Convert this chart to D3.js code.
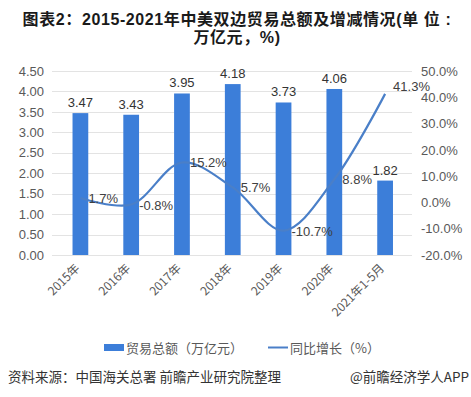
<!DOCTYPE html>
<html>
<head>
<meta charset="utf-8">
<script src="https://cdn.jsdelivr.net/npm/d3@7"></script>
<style>
  body { margin: 0; background: #fff; }
  svg { font-family: "Noto Sans CJK SC", "Liberation Sans", sans-serif; }
</style>
</head>
<body>
<svg width="471" height="397"></svg>
<script>
'use strict';

// chart data
var years = ['2015年', '2016年', '2017年', '2018年', '2019年', '2020年', '2021年1-5月'];
var tradeTotal = [3.47, 3.43, 3.95, 4.18, 3.73, 4.06, 1.82];
var growth = [1.7, -0.8, 15.2, 5.7, -10.7, 8.8, 41.3];
var leftTicks = [0, 0.5, 1, 1.5, 2, 2.5, 3, 3.5, 4, 4.5];
var rightTicks = [-20, -10, 0, 10, 20, 30, 40, 50];

var svg = d3.select('svg');
var barColor = '#3c7ed9';
var lineColor = '#4a7fc8';

var plotLeft = 55, plotRight = 410.5, plotTop = 71, plotBottom = 255;

var x = d3.scaleBand().domain(years).range([plotLeft, plotRight]).paddingInner(0.69).paddingOuter(0.345);
var yL = d3.scaleLinear().domain([0, 4.5]).range([plotBottom, plotTop]);
var yR = d3.scaleLinear().domain([-20, 50]).range([plotBottom, plotTop]);

//Title
var title = svg.append('g').attr('font-weight', 'bold').attr('fill', '#1a1a1a')
  .attr('font-family', '"Liberation Sans", "Noto Sans CJK SC", sans-serif')
  .attr('font-size', 16).attr('letter-spacing', 0.6).attr('text-anchor', 'middle');
title.append('text').attr('x', 237).attr('y', 25).text('图表2：2015-2021年中美双边贸易总额及增减情况(单 位 :');
title.append('text').attr('x', 237).attr('y', 43).text('万亿元，%)');

//Gridlines
svg.append('g').selectAll('line').data(leftTicks).enter().append('line')
  .attr('x1', 52).attr('x2', 412)
  .attr('y1', function (d) { return Math.round(yL(d)) + 0.5; })
  .attr('y2', function (d) { return Math.round(yL(d)) + 0.5; })
  .attr('stroke', '#e3e3e3').attr('stroke-width', 1);

//Left axis
var axL = svg.append('g').attr('transform', 'translate(44,0)')
  .call(d3.axisLeft(yL).tickValues(leftTicks).tickFormat(d3.format('.2f')).tickSize(0).tickPadding(0));
axL.select('.domain').remove();
axL.selectAll('text').attr('font-size', 13).attr('fill', '#595959')
  .attr('font-family', '"Liberation Sans", sans-serif');

//Right axis
var axR = svg.append('g').attr('transform', 'translate(421,0)')
  .call(d3.axisRight(yR).tickValues(rightTicks).tickFormat(function (d) { return d.toFixed(1) + '%'; }).tickSize(0).tickPadding(0));
axR.select('.domain').remove();
axR.selectAll('text').attr('font-size', 13).attr('fill', '#595959')
  .attr('font-family', '"Liberation Sans", sans-serif');

//Bars
svg.append('g').selectAll('rect').data(tradeTotal).enter().append('rect')
  .attr('x', function (d, i) { return x(years[i]); })
  .attr('width', x.bandwidth())
  .attr('y', function (d) { return yL(d); })
  .attr('height', function (d) { return yL(0) - yL(d); })
  .attr('fill', barColor);

//Bar labels
svg.append('g').selectAll('text').data(tradeTotal).enter().append('text')
  .attr('x', function (d, i) { return x(years[i]) + x.bandwidth() / 2; })
  .attr('y', function (d) { return yL(d) - 6; })
  .attr('text-anchor', 'middle').attr('font-size', 13).attr('fill', '#333')
  .attr('font-family', '"Liberation Sans", sans-serif')
  .text(function (d) { return d.toFixed(2); });

//Growth line
var line = d3.line()
  .x(function (d, i) { return x(years[i]) + x.bandwidth() / 2; })
  .y(function (d) { return yR(d); })
  .curve(d3.curveCatmullRom.alpha(0.5));
svg.append('path').datum(growth).attr('d', line)
  .attr('fill', 'none').attr('stroke', lineColor).attr('stroke-width', 2.2);

//Line labels (last one nudged up so it clears the 40.0% tick)
svg.append('g').selectAll('text').data(growth).enter().append('text')
  .attr('x', function (d, i) { return x(years[i]) + x.bandwidth() / 2 + 8; })
  .attr('y', function (d, i) { return yR(d) + (i === growth.length - 1 ? -3 : 5); })
  .attr('font-size', 13).attr('fill', '#404040')
  .attr('font-family', '"Liberation Sans", sans-serif')
  .text(function (d) { return d.toFixed(1) + '%'; });

//X labels
svg.append('g').selectAll('text').data(years).enter().append('text')
  .attr('transform', function (d) {
    return 'translate(' + (x(d) + x.bandwidth() / 2) + ',269) rotate(-45)';
  })
  .attr('text-anchor', 'end').attr('font-size', 12).attr('fill', '#595959')
  .text(function (d) { return d; });

//Legend
var legend = svg.append('g').attr('font-size', 13).attr('fill', '#595959');
legend.append('rect').attr('x', 104).attr('y', 344).attr('width', 20).attr('height', 7).attr('fill', barColor);
legend.append('text').attr('x', 126).attr('y', 353).text('贸易总额（万亿元）');
legend.append('line').attr('x1', 268).attr('x2', 288).attr('y1', 347.5).attr('y2', 347.5)
  .attr('stroke', lineColor).attr('stroke-width', 2);
legend.append('text').attr('x', 290).attr('y', 353).text('同比增长（%）');

//Footer
svg.append('text').attr('x', 8).attr('y', 382).attr('font-size', 13.5).attr('fill', '#333')
  .text('资料来源：中国海关总署 前瞻产业研究院整理');
svg.append('text').attr('x', 469).attr('y', 382).attr('font-size', 13.5).attr('fill', '#333')
  .attr('text-anchor', 'end').text('@前瞻经济学人APP');
</script>
</body>
</html>
